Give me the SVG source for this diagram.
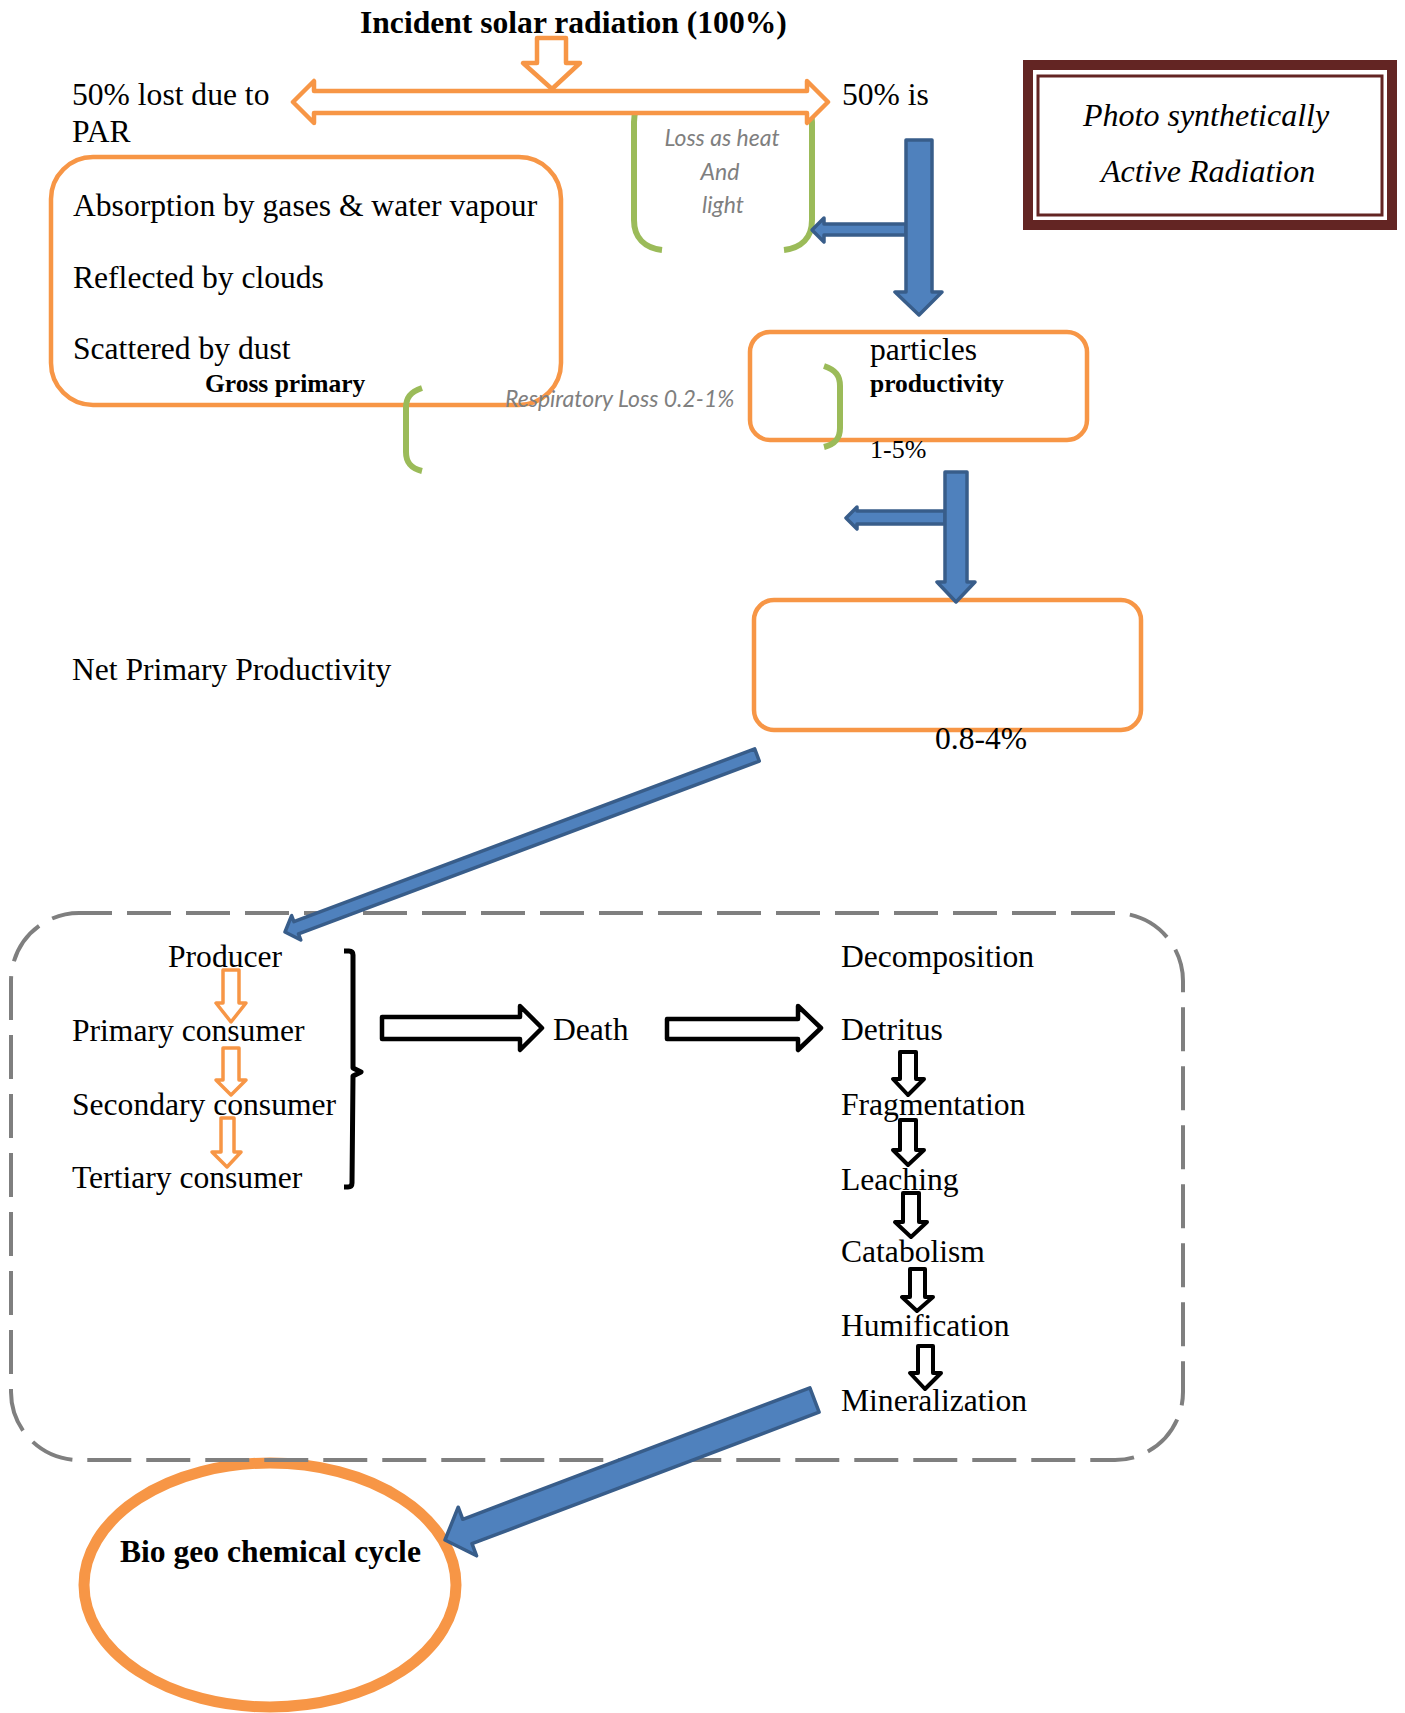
<svg xmlns="http://www.w3.org/2000/svg" width="1405" height="1713" viewBox="0 0 1405 1713">
<style>
.t{font-family:"Liberation Serif","Times New Roman",serif;font-size:31.6px;fill:#000}
.b{font-weight:bold}
.g{font-family:Lato,"Open Sans",sans-serif;font-style:italic;font-size:23px;fill:#7F7F7F}
.ob{fill:#fff;stroke:#F79646;stroke-width:4.5}
.oa{fill:#fff;stroke:#F79646;stroke-width:4.5;stroke-linejoin:round}
.ka{fill:#fff;stroke:#000;stroke-width:4.5;stroke-linejoin:round}
.ba{fill:#4F81BD;stroke:#385D8A;stroke-width:3.5;stroke-linejoin:round}
.gb{fill:none;stroke:#9BBB59;stroke-width:6}
</style>
<rect width="1405" height="1713" fill="#fff"/>

<g id="biogeo">
<ellipse cx="270" cy="1585" rx="186" ry="122" fill="#fff" stroke="#F79646" stroke-width="11"/>
<text class="t b" x="120" y="1562">Bio geo chemical cycle</text>
</g>

<g id="cycle-frame">
<rect x="11" y="913" width="1172" height="547" rx="68" ry="68" fill="none" stroke="#7F7F7F" stroke-width="4" stroke-dasharray="44 15" stroke-dashoffset="11"/>
</g>

<g id="title">
<text class="t b" x="360" y="33">Incident solar radiation (100%)</text>
</g>

<g id="lost-label">
<text class="t" x="72" y="105">50% lost due to</text>
<text class="t" x="72" y="142">PAR</text>
</g>

<g id="par-label">
<text class="t" x="842" y="105">50% is</text>
</g>

<g id="par-box">
<rect x="1028" y="65" width="364" height="160" fill="#fff" stroke="#632523" stroke-width="10"/>
<rect x="1038" y="76" width="344" height="139" fill="none" stroke="#632523" stroke-width="3"/>
<text class="t" style="font-style:italic;font-size:32px" x="1083" y="126">Photo synthetically</text>
<text class="t" style="font-style:italic;font-size:32px" x="1101" y="182">Active Radiation</text>
</g>

<g id="loss-box">
<rect class="ob" x="51" y="157" width="510" height="248" rx="42" ry="42"/>
<text class="t" x="73" y="216">Absorption by gases &amp; water vapour</text>
<text class="t" x="73" y="288">Reflected by clouds</text>
<text class="t" x="73" y="359">Scattered by dust</text>
<text class="t b" style="font-size:25.5px" x="205" y="392">Gross primary</text>
</g>

<g id="heat-loss">
<path class="gb" d="M662,250 C645,248 634,238 634,220 L634,122 C634,104 645,94 662,92"/>
<path class="gb" d="M784,250 C801,248 812,238 812,220 L812,122 C812,104 801,94 784,92"/>
<text class="g" x="722" y="146" text-anchor="middle">Loss as heat</text>
<text class="g" x="720" y="180" text-anchor="middle">And</text>
<text class="g" x="723" y="213" text-anchor="middle">light</text>
</g>

<g id="gpp-box">
<rect class="ob" x="750" y="332" width="337" height="108" rx="20" ry="20"/>
<text class="t" x="870" y="360">particles</text>
<text class="t b" style="font-size:25.5px" x="870" y="392">productivity</text>
<text class="t" style="font-size:26px" x="870" y="458">1-5%</text>
</g>

<g id="respiratory-loss">
<path class="gb" d="M422,388 C410,392 406,398 406,408 L406,452 C406,462 410,468 422,471"/>
<path class="gb" d="M824,366 C836,370 840,376 840,386 L840,428 C840,438 836,444 824,447"/>
<text class="g" x="505" y="407">Respiratory Loss 0.2-1%</text>
</g>

<g id="npp-label">
<text class="t" x="72" y="680">Net Primary Productivity</text>
</g>

<g id="npp-box">
<rect class="ob" x="754" y="600" width="387" height="130" rx="20" ry="20"/>
<text class="t" x="935" y="749">0.8-4%</text>
</g>

<g id="trophic">
<text class="t" x="168" y="967">Producer</text>
<text class="t" x="72" y="1041">Primary consumer</text>
<text class="t" x="72" y="1115">Secondary consumer</text>
<text class="t" x="72" y="1188">Tertiary consumer</text>
<path d="M344,951 L349,951 Q353,951 353,955 L353,1068 L361,1072 L353,1076 L352,1183 Q352,1187 348,1187 L344,1187" fill="none" stroke="#000" stroke-width="5" stroke-linejoin="round"/>
</g>

<g id="death">
<text class="t" x="553" y="1040">Death</text>
</g>

<g id="decomposition">
<text class="t" x="841" y="967">Decomposition</text>
<text class="t" x="841" y="1040">Detritus</text>
<text class="t" x="841" y="1115">Fragmentation</text>
<text class="t" x="841" y="1190">Leaching</text>
<text class="t" x="841" y="1262">Catabolism</text>
<text class="t" x="841" y="1336">Humification</text>
<text class="t" x="841" y="1411">Mineralization</text>
</g>

<g id="connectors">
<polygon class="oa" points="537,38 566,38 566,63 580,63 552,89 523,63 537,63"/>
<polygon class="oa" points="293,102 314,81 314,91 807,91 807,81 828,102 807,123 807,113 314,113 314,123"/>
<polygon class="ba" points="906,224 824,224 824,218 812,230 824,242 824,235 906,235"/>
<polygon class="ba" points="906,140 932,140 932,292 942,292 919,315 895,292 906,292"/>
<polygon class="ba" points="945,511 857,511 857,507 846,518 857,529 857,524 945,524"/>
<polygon class="ba" points="945,472 967,472 967,582 975,582 956,602 937,582 945,582"/>
<polygon class="ba" points="754.7,748.9 293.9,921.7 291.6,915.6 285,932 300.8,940 298.5,933.9 759.3,761.1"/>
<polygon class="oa" style="stroke-width:3.5" points="223,970 239,970 239,1003 246,1003 231,1022 216,1003 223,1003"/>
<polygon class="oa" style="stroke-width:3.5" points="223,1048 239,1048 239,1080 246,1080 231,1095 216,1080 223,1080"/>
<polygon class="oa" style="stroke-width:3.5" points="221,1118 234,1118 234,1152 241,1152 227,1167 212,1152 221,1152"/>
<polygon class="ka" points="382,1017 520,1017 520,1006 542,1028 520,1050 520,1039 382,1039"/>
<polygon class="ka" points="667,1019 798,1019 798,1006 821,1028 798,1050 798,1039 667,1039"/>
<polygon class="ka" style="stroke-width:4" points="900,1052 916,1052 916,1079 924,1079 908,1095 893,1079 900,1079"/>
<polygon class="ka" style="stroke-width:4" points="900,1120 916,1120 916,1150 924,1150 908,1165 893,1150 900,1150"/>
<polygon class="ka" style="stroke-width:4" points="903,1193 919,1193 919,1222 927,1222 911,1237 895,1222 903,1222"/>
<polygon class="ka" style="stroke-width:4" points="910,1269 925,1269 925,1297 933,1297 917,1311 902,1297 910,1297"/>
<polygon class="ka" style="stroke-width:4" points="918,1346 933,1346 933,1373 941,1373 925,1389 910,1373 918,1373"/>
<polygon class="ba" points="809.9,1387.8 462.8,1519.3 458.2,1507.2 445,1540 476.6,1555.8 472,1543.7 819.1,1412.2"/>
</g>
</svg>
